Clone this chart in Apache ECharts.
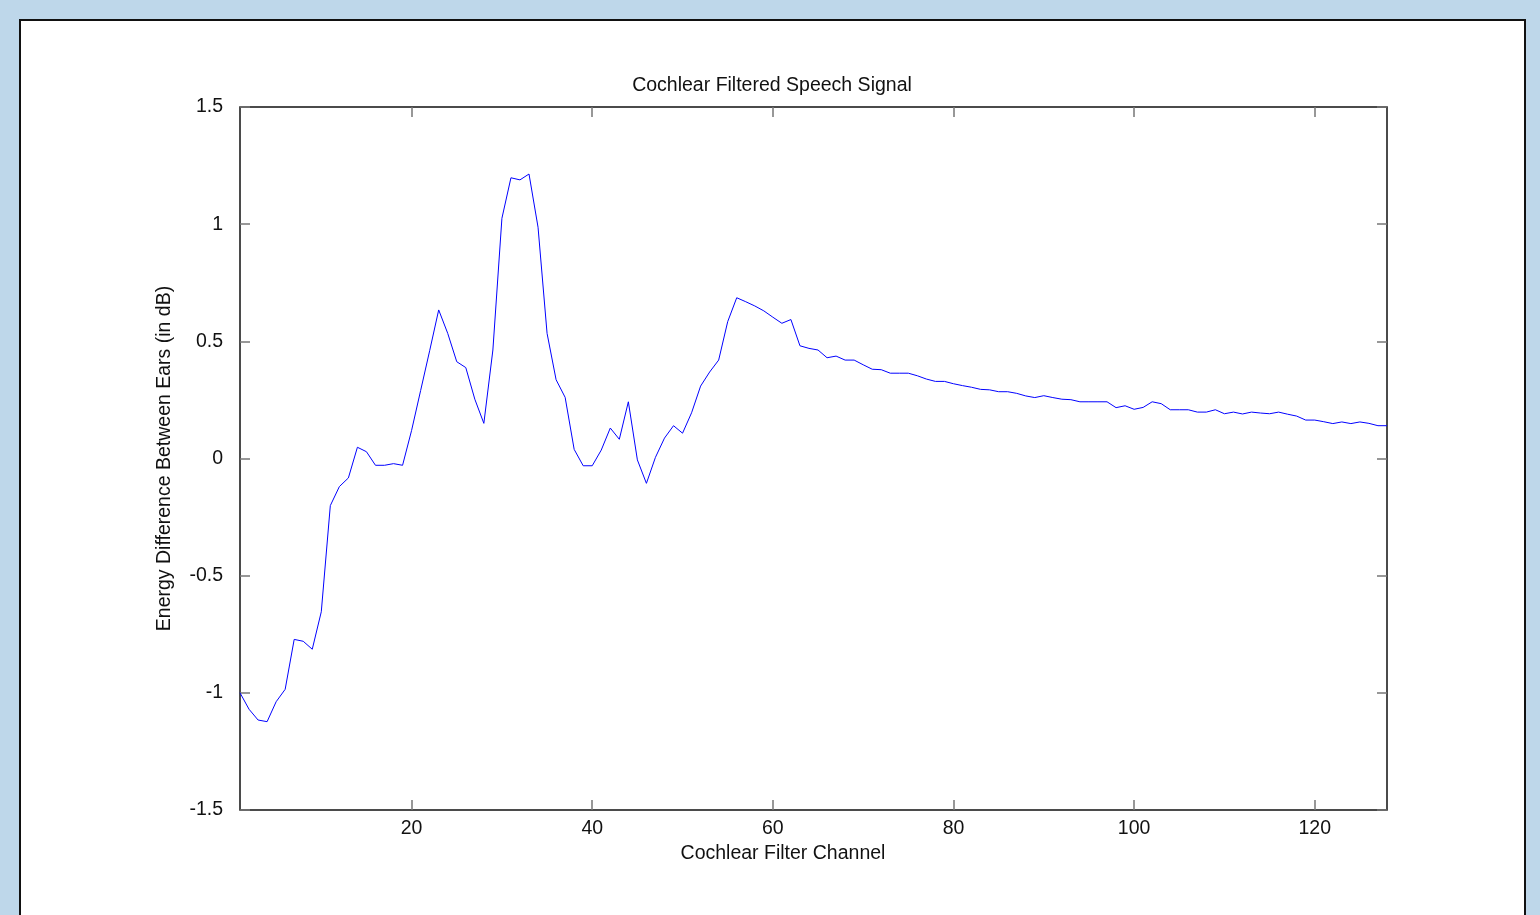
<!DOCTYPE html>
<html>
<head>
    <meta charset="utf-8">
    <title>Cochlear Filtered Speech Signal</title>
    <script src="https://cdn.jsdelivr.net/npm/echarts@6/dist/echarts.min.js"></script>
    <style>
        body { margin: 0; background: #bed7ea; overflow: hidden; }
        #panel { position: absolute; left: 19px; top: 19px; width: 1503px; height: 920px;
                 background: #fff; border: 2px solid #111; }
        #main { position: absolute; left: 0; top: 0; width: 1540px; height: 915px; }
    </style>
</head>
<body>
<div id="panel"></div>
<div id="main"></div>
<script type="text/javascript">
    // energy difference per cochlear channel
    var energyDiff = [
        -1.0, -1.07, -1.116, -1.123, -1.038, -0.985, -0.772, -0.78, -0.814, -0.654,
        -0.201, -0.12, -0.083, 0.048, 0.029, -0.029, -0.029, -0.022, -0.029, 0.12,
        0.29, 0.46, 0.634, 0.534, 0.413, 0.388, 0.253, 0.15, 0.463, 1.025,
        1.198, 1.189, 1.214, 0.987, 0.534, 0.336, 0.261, 0.039, -0.031, -0.031,
        0.036, 0.13, 0.082, 0.242, -0.006, -0.106, 0.005, 0.087, 0.14, 0.108,
        0.195, 0.309, 0.369, 0.42, 0.584, 0.686, 0.669, 0.651, 0.63, 0.603,
        0.577, 0.593, 0.481, 0.47, 0.463, 0.43, 0.437, 0.42, 0.42, 0.40,
        0.381, 0.379, 0.364, 0.364, 0.364, 0.353, 0.339, 0.329, 0.329, 0.319,
        0.311, 0.304, 0.295, 0.293, 0.285, 0.285, 0.278, 0.267, 0.26, 0.268,
        0.26, 0.253, 0.251, 0.242, 0.242, 0.242, 0.242, 0.217, 0.225, 0.21,
        0.218, 0.242, 0.234, 0.208, 0.208, 0.208, 0.198, 0.198, 0.208, 0.191,
        0.198, 0.19, 0.198, 0.194, 0.191, 0.198, 0.189, 0.181, 0.164, 0.164,
        0.157, 0.149, 0.156, 0.149, 0.156, 0.15, 0.14, 0.14
    ];
    var xTicks = [20, 40, 60, 80, 100, 120];
    var yTicks = [-1.5, -1, -0.5, 0, 0.5, 1, 1.5];

    var lineData = [];
    for (var i = 0; i < energyDiff.length; i++) {
        lineData.push([i + 1, energyDiff[i]]);
    }

    var font = 'Liberation Sans, Arial, sans-serif';
    var fs = 19.5;
    var tickStyle = { show: true, inside: true, length: 10, lineStyle: { color: '#777', width: 1.5 } };

    var option = {
        animation: false,
        backgroundColor: 'transparent',
        textStyle: { fontFamily: font },
        grid: {
            left: 240, right: 153, top: 107, bottom: 105,
            containLabel: false,
            show: true,
            borderColor: '#111',
            borderWidth: 1.5,
            backgroundColor: 'transparent'
        },
        graphic: [
            { type: 'text', x: 772, y: 86,
              style: { text: 'Cochlear Filtered Speech Signal', font: fs + 'px ' + font,
                       fill: '#111', textAlign: 'center', textVerticalAlign: 'middle' } },
            { type: 'text', x: 783, y: 854,
              style: { text: 'Cochlear Filter Channel', font: fs + 'px ' + font,
                       fill: '#111', textAlign: 'center', textVerticalAlign: 'middle' } }
        ],
        xAxis: [{
            type: 'value', min: 1, max: 128, position: 'bottom',
            axisLine: { show: false, onZero: false },
            axisTick: Object.assign({ customValues: xTicks }, tickStyle),
            axisLabel: { customValues: xTicks, color: '#111', fontSize: fs, margin: 9, fontFamily: font },
            splitLine: { show: false }
        }, {
            type: 'value', min: 1, max: 128, position: 'top',
            axisLine: { show: false, onZero: false },
            axisTick: Object.assign({ customValues: xTicks }, tickStyle),
            axisLabel: { show: false },
            splitLine: { show: false }
        }],
        yAxis: [{
            type: 'value', min: -1.5, max: 1.5, interval: 0.5, position: 'left',
            name: 'Energy Difference Between Ears (in dB)',
            nameLocation: 'middle', nameGap: 65,
            nameTextStyle: { color: '#111', fontSize: fs, fontFamily: font },
            axisLine: { show: false, onZero: false },
            axisTick: tickStyle,
            axisLabel: { color: '#111', fontSize: fs, margin: 17, fontFamily: font,
                         customValues: yTicks },
            splitLine: { show: false }
        }, {
            type: 'value', min: -1.5, max: 1.5, interval: 0.5, position: 'right',
            axisLine: { show: false, onZero: false },
            axisTick: tickStyle,
            axisLabel: { show: false },
            splitLine: { show: false }
        }],
        series: [{
            name: 'Energy difference',
            type: 'line',
            data: lineData,
            showSymbol: false,
            symbol: 'none',
            lineStyle: { color: '#0000ff', width: 1 }
        }]
    };

    var myChart = echarts.init(document.getElementById('main'));
    myChart.setOption(option);
</script>
</body>
</html>
